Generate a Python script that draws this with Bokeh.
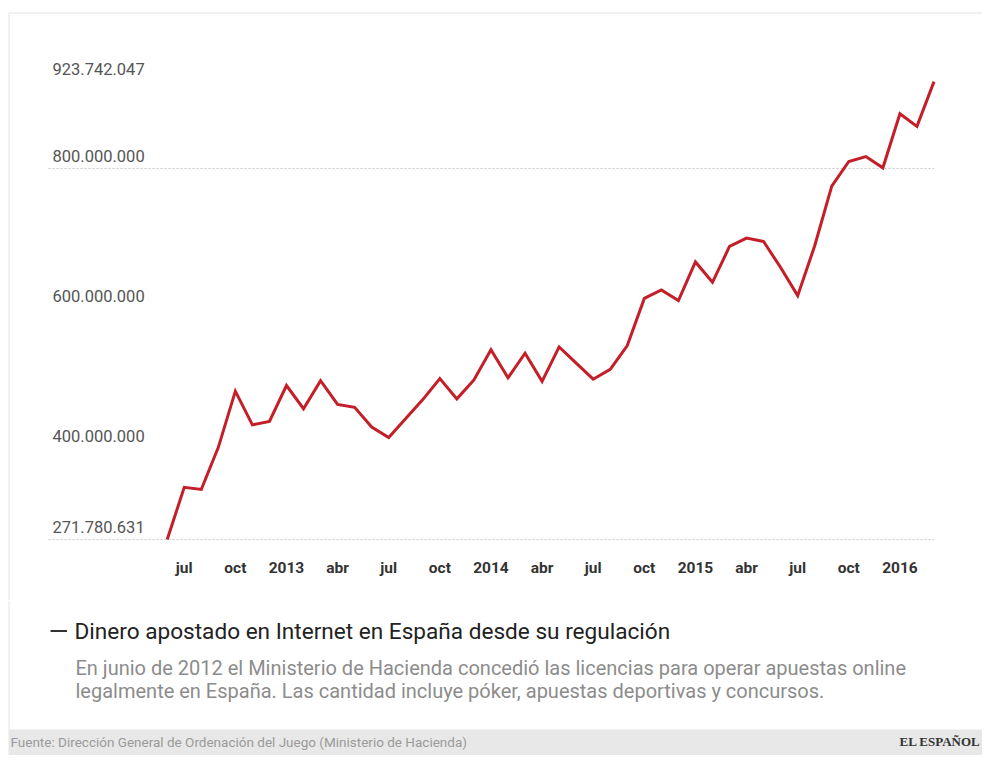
from bokeh.plotting import figure
from bokeh.models import Range1d, ColumnDataSource
from bokeh.layouts import column
from bokeh.core.properties import value
from bokeh.embed import file_html
from bokeh.resources import INLINE

# ---------------- data ----------------
# monthly amounts, June 2012 .. March 2016 (euros)
months = list(range(46))
apostado = [
    271780631, 346e6, 343e6, 403e6, 483e6, 435e6, 440e6,          # jun-dic 2012
    491e6, 458e6, 498e6, 464e6, 460e6, 432e6, 417e6, 444e6, 471e6, 501e6, 472e6, 499e6,  # 2013
    542e6, 502e6, 537e6, 497e6, 546e6, 523e6, 500e6, 514e6, 548e6, 615e6, 627e6, 612e6,  # 2014
    667e6, 638e6, 689e6, 701e6, 696e6, 659e6, 619e6, 690e6, 775e6, 810e6, 817e6, 801e6,  # 2015
    878e6, 860e6, 923742047,                                       # ene-mar 2016
]
tick_months = [1, 4, 7, 10, 13, 16, 19, 22, 25, 28, 31, 34, 37, 40, 43]
tick_labels = ["jul", "oct", "2013", "abr", "jul", "oct", "2014", "abr",
               "jul", "oct", "2015", "abr", "jul", "oct", "2016"]
y_label_values = [271780631, 400000000, 600000000, 800000000, 923742047]
y_label_texts = ["271.780.631", "400.000.000", "600.000.000", "800.000.000", "923.742.047"]
grid_values = [271780631, 800000000]

title = "Dinero apostado en Internet en España desde su regulación"
subtitle_lines = [
    "En junio de 2012 el Ministerio de Hacienda concedió las licencias para operar apuestas online",
    "legalmente en España. Las cantidad incluye póker, apuestas deportivas y concursos.",
]
source = "Fuente: Dirección General de Ordenación del Juego (Ministerio de Hacienda)"
brand = "EL ESPAÑOL"

# ---------------- layout ----------------
W = 982
H1 = 600           # chart part (frame covers it all)
PLOT_BOTTOM = 545  # pixel row where the value scale starts
H2 = 755 - H1      # text part
PX_X = 17.04       # pixels per month
X0 = 166.7         # canvas x of month 0
VAL_PER_PX = 1.4238e6
ymin = min(apostado)
y_base = ymin - 6 * VAL_PER_PX           # value at PLOT_BOTTOM
y_start = y_base - (H1 - PLOT_BOTTOM) * VAL_PER_PX
y_end = y_base + PLOT_BOTTOM * VAL_PER_PX
x_start = -X0 / PX_X
x_end = (W - X0) / PX_X

font = value("Roboto")

p = figure(width=W, height=H1, output_backend="svg", toolbar_location=None,
           x_range=Range1d(x_start, x_end), y_range=Range1d(y_start, y_end),
           x_axis_type=None, y_axis_type=None,
           min_border_left=0, min_border_right=0, min_border_top=0, min_border_bottom=0)
p.extra_x_ranges = {"px": Range1d(0, W)}
p.extra_y_ranges = {"px": Range1d(H1, 0)}
p.outline_line_color = None
p.grid.grid_line_color = None
p.background_fill_color = "white"
p.border_fill_color = "white"

# card border (left and top)
p.segment(x0=[8.5, 8.5], y0=[H1, 12.5], x1=[8.5, W], y1=[12.5, 12.5],
          x_range_name="px", y_range_name="px", line_color="#e4e4e4", line_width=1)

# dotted guide lines
grid_left = (48 - X0) / PX_X
p.segment(x0=[grid_left] * len(grid_values), y0=grid_values,
          x1=[months[-1]] * len(grid_values), y1=grid_values,
          line_color="#c8c8c8", line_width=1, line_dash="2 2")

# y labels
ysrc = ColumnDataSource(dict(x=[grid_left] * len(y_label_values), y=y_label_values, t=y_label_texts))
p.text(x="x", y="y", text="t", source=ysrc, text_font=font, text_font_size="16.5px",
       text_color="#555555", text_align="left", text_baseline="middle",
       x_offset=4, y_offset=-13)

# main line
p.line(months, apostado, line_color="#c41e28", line_width=3, line_join="miter")

# x tick labels (month positions on the data scale, below the baseline)
xsrc = ColumnDataSource(dict(x=tick_months, y=[y_base] * len(tick_months), t=tick_labels))
p.text(x="x", y="y", text="t", source=xsrc, text_font=font, text_font_size="15.5px",
       text_font_style="bold", text_color="#333333", text_align="center",
       text_baseline="middle", y_offset=22)

# ---------------- text block ----------------
q = figure(width=W, height=H2, output_backend="svg", toolbar_location=None,
           x_range=Range1d(0, W), y_range=Range1d(H2, 0),
           x_axis_type=None, y_axis_type=None,
           min_border_left=0, min_border_right=0, min_border_top=0, min_border_bottom=0)
q.outline_line_color = None
q.grid.grid_line_color = None
q.background_fill_color = "white"
q.border_fill_color = "white"

BAND_TOP = 129
# left card border
q.segment(x0=[8.5], y0=[0], x1=[8.5], y1=[BAND_TOP], line_color="#e4e4e4", line_width=1)
# footer band
q.quad(left=[8], right=[W], top=[BAND_TOP], bottom=[H2], fill_color="#e8e8e8", line_color=None)

# legend marker + title
q.segment(x0=[50], y0=[30.5], x1=[66.5], y1=[30.5], line_color="#333333", line_width=2)
q.text(x=[74], y=[31], text=[title], text_font=font, text_font_size="22.6px",
       text_color="#222222", text_baseline="middle", text_align="left")
# subtitle
q.text(x=[75, 75], y=[67.5, 90], text=subtitle_lines, text_font=font, text_font_size="20px",
       text_color="#8c8c8c", text_baseline="middle", text_align="left")
# footer
q.text(x=[10], y=[141], text=[source], text_font=font, text_font_size="13.5px",
       text_color="#9a9a9a", text_baseline="middle", text_align="left")
q.text(x=[980], y=[141], text=[brand], text_font=value("Liberation Serif"),
       text_font_size="13px", text_font_style="bold", text_color="#333333",
       text_baseline="middle", text_align="right")

layout = column(p, q, spacing=0)
open("out.html", "w").write(file_html(layout, INLINE))
